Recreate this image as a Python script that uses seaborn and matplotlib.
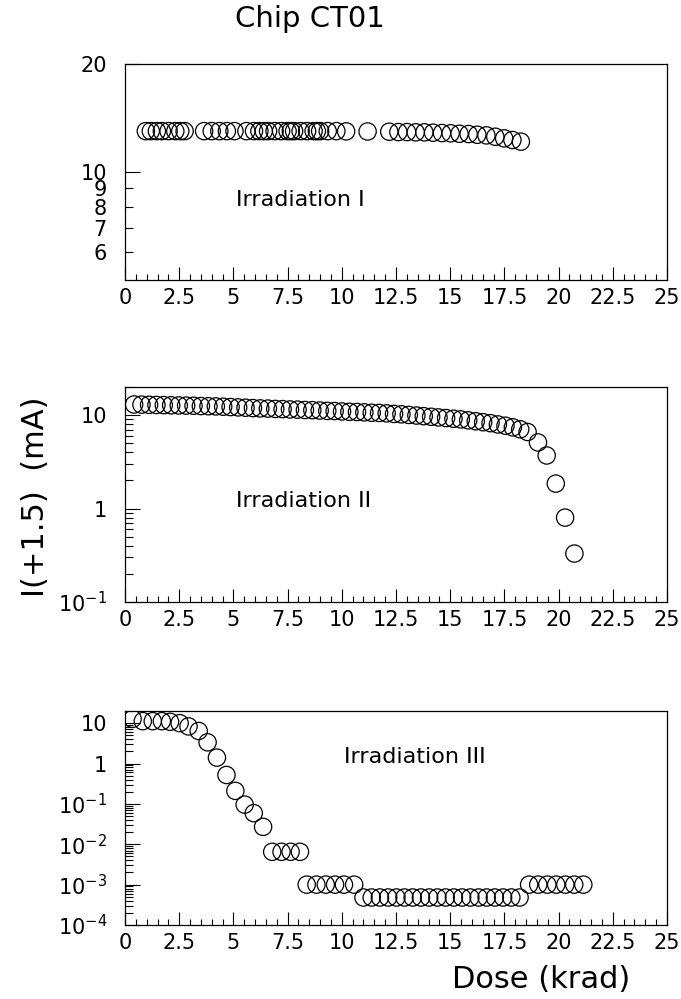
import numpy as np
import matplotlib
matplotlib.use("Agg")
import matplotlib.pyplot as plt
import matplotlib.ticker as mticker
import seaborn as sns

# Irradiation I
dose_1 = [0.96, 1.19, 1.47, 1.70, 2.01, 2.32, 2.55, 2.75, 3.65, 4.0, 4.35, 4.7, 5.05,
          5.6, 5.95, 6.2, 6.4, 6.6, 6.9, 7.2, 7.5, 7.65, 7.8, 8.1, 8.4, 8.7, 8.85, 9.0,
          9.35, 9.75, 10.2, 11.19,
          12.19, 12.61, 13.01, 13.41, 13.81, 14.21, 14.62, 15.02, 15.43, 15.85, 16.25,
          16.67, 17.08, 17.49, 17.87, 18.26]
curr_1 = [13.0, 13.0, 13.0, 13.0, 13.0, 13.0, 13.0, 13.0, 13.0, 13.0, 13.0, 13.0, 13.0,
          13.0, 13.0, 13.0, 13.0, 13.0, 13.0, 13.0, 13.0, 13.0, 13.0, 13.0, 13.0, 13.0, 13.0, 13.0,
          13.0, 13.0, 12.98, 12.97,
          12.95, 12.92, 12.92, 12.90, 12.90, 12.87, 12.84, 12.82, 12.78, 12.76, 12.70,
          12.65, 12.54, 12.41, 12.28, 12.15]

# Irradiation II
dose_2 = [0.42, 0.76, 1.11, 1.45, 1.79, 2.13, 2.48, 2.82, 3.16, 3.50, 3.85, 4.19, 4.53,
          4.87, 5.22, 5.56, 5.90, 6.24, 6.59, 6.93, 7.27, 7.61, 7.96, 8.30, 8.64, 8.98,
          9.33, 9.67, 10.01, 10.35, 10.70, 11.04, 11.38, 11.72, 12.07, 12.41, 12.75, 13.09,
          13.44, 13.78, 14.12, 14.46, 14.81, 15.15, 15.49, 15.83, 16.18, 16.52, 16.86,
          17.20, 17.55, 17.89, 18.23, 18.57, 19.05, 19.45, 19.87, 20.30, 20.73]
curr_2 = [13.0, 12.95, 12.9, 12.85, 12.8, 12.75, 12.7, 12.65, 12.6, 12.5, 12.45, 12.4, 12.3,
          12.2, 12.1, 12.0, 11.9, 11.8, 11.75, 11.65, 11.6, 11.5, 11.45, 11.35, 11.3, 11.2,
          11.1, 11.05, 10.95, 10.85, 10.8, 10.7, 10.6, 10.55, 10.45, 10.3, 10.2, 10.05,
          9.9, 9.75, 9.6, 9.45, 9.3, 9.15, 9.0, 8.8, 8.6, 8.4, 8.2,
          7.95, 7.7, 7.4, 7.05, 6.6, 5.1, 3.7, 1.85, 0.8, 0.33]

# Irradiation III
dose_3 = [0.35, 0.82, 1.28, 1.70, 2.08, 2.52, 2.93, 3.40, 3.81, 4.24, 4.68, 5.09, 5.52,
          5.94, 6.37, 6.79, 7.22, 7.64, 8.07, 8.38, 8.83, 9.26, 9.69, 10.10, 10.57,
          11.0, 11.38, 11.76, 12.14, 12.52, 12.89, 13.27, 13.65, 14.03, 14.41, 14.79,
          15.17, 15.55, 15.93, 16.31, 16.68, 17.06, 17.44, 17.82, 18.2,
          18.64, 19.06, 19.48, 19.89, 20.31, 20.72, 21.14]
curr_3 = [12.8, 11.2, 11.2, 11.2, 10.8, 10.0, 8.3, 6.4, 3.35, 1.4, 0.52, 0.21, 0.096,
          0.059, 0.027, 0.0065, 0.0065, 0.0065, 0.0065, 1.0e-3, 1.0e-3, 1.0e-3, 1.0e-3, 1.0e-3, 1.0e-3,
          4.8e-4, 4.8e-4, 4.8e-4, 4.8e-4, 4.8e-4, 4.8e-4, 4.8e-4, 4.8e-4, 4.8e-4, 4.8e-4, 4.8e-4,
          4.8e-4, 4.8e-4, 4.8e-4, 4.8e-4, 4.8e-4, 4.8e-4, 4.8e-4, 4.8e-4, 4.8e-4,
          1.0e-3, 1.0e-3, 1.0e-3, 1.0e-3, 1.0e-3, 1.0e-3, 1.0e-3]

x_ticks = [0, 2.5, 5, 7.5, 10, 12.5, 15, 17.5, 20, 22.5, 25]
x_labels = ['0', '2.5', '5', '7.5', '10', '12.5', '15', '17.5', '20', '22.5', '25']

y1_major, y1_major_labels = [10, 20], ['10', '20']
y1_minor, y1_minor_labels = [6, 7, 8, 9], ['6', '7', '8', '9']
y2_major, y2_labels = [0.1, 1, 10], [r'$10^{-1}$', '1', '10']
y3_major = [1e-4, 1e-3, 1e-2, 1e-1, 1, 10]
y3_labels = [r'$10^{-4}$', r'$10^{-3}$', r'$10^{-2}$', r'$10^{-1}$', '1', '10']

sns.set_style("ticks")
plt.rcParams['font.family'] = ['DejaVu Sans']
plt.rcParams['mathtext.fontset'] = 'dejavusans'
for key in ['text.color', 'axes.labelcolor', 'xtick.color', 'ytick.color', 'axes.edgecolor']:
    plt.rcParams[key] = 'black'

fig = plt.figure(figsize=(6.81, 9.99), dpi=100)
W, H = 681, 999


def make_axes(top, bottom):
    return fig.add_axes([125 / W, 1 - bottom / H, 542 / W, (bottom - top) / H])


def style(ax):
    ax.set_xlim(0, 25)
    ax.set_xticks(x_ticks, labels=x_labels)
    ax.xaxis.set_minor_locator(mticker.MultipleLocator(0.5))
    ax.tick_params(axis='x', which='major', direction='in', length=9.5, width=0.8,
                   top=False, labelsize=15, pad=6)
    ax.tick_params(axis='x', which='minor', direction='in', length=4, width=0.8, top=False)
    ax.tick_params(axis='y', which='major', direction='in', length=11, width=0.8,
                   right=False, labelsize=15, pad=13)
    ax.tick_params(axis='y', which='minor', direction='in', length=5.5, width=0.8,
                   right=False, labelsize=15, pad=13)
    for s in ax.spines.values():
        s.set_linewidth(0.9)
    ax.set_xlabel('')
    ax.set_ylabel('')


def circles(ax, x, y):
    sns.scatterplot(x=x, y=y, ax=ax, marker='o', s=155, facecolor='none',
                    edgecolor='black', linewidth=0.9, legend=False, zorder=3)


# panel 1
ax1 = make_axes(64, 280)
circles(ax1, dose_1, curr_1)
ax1.set_yscale('log')
ax1.set_ylim(5, 20)
style(ax1)
ax1.set_yticks(y1_major, labels=y1_major_labels)
ax1.set_yticks(y1_minor, labels=y1_minor_labels, minor=True)
ax1.text(5.1, 8.36, 'Irradiation I', fontsize=16, va='center')

# panel 2
ax2 = make_axes(387, 602)
circles(ax2, dose_2, curr_2)
ax2.set_yscale('log')
ax2.set_ylim(0.1, 20)
style(ax2)
ax2.set_yticks(y2_major, labels=y2_labels)
ax2.yaxis.set_minor_locator(mticker.LogLocator(base=10, subs=np.arange(2, 10)))
ax2.yaxis.set_minor_formatter(mticker.NullFormatter())
ax2.text(5.1, 1.2, 'Irradiation II', fontsize=16, va='center')

# panel 3
ax3 = make_axes(711, 925)
circles(ax3, dose_3, curr_3)
ax3.set_yscale('log')
ax3.set_ylim(1e-4, 20)
style(ax3)
ax3.set_yticks(y3_major, labels=y3_labels)
ax3.yaxis.set_minor_locator(mticker.LogLocator(base=10, subs=np.arange(2, 10)))
ax3.yaxis.set_minor_formatter(mticker.NullFormatter())
ax3.text(10.1, 1.46, 'Irradiation III', fontsize=16, va='center')

fig.text(310 / W, 1 - 19 / H, 'Chip CT01', fontsize=21, ha='center', va='center')
fig.text(36 / W, 1 - 497 / H, 'I(+1.5)  (mA)', fontsize=22, rotation=90,
         ha='center', va='center')
fig.text(452 / W, 1 - 988 / H, 'Dose (krad)', fontsize=22, ha='left', va='baseline')

fig.savefig('out.png', dpi=100)
